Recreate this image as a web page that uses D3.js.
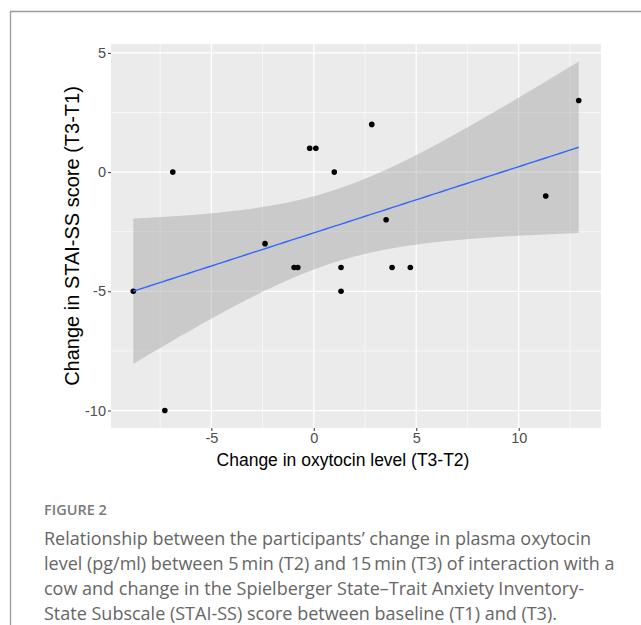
<!DOCTYPE html>
<html>
<head>
<meta charset="utf-8">
<script src="https://cdn.jsdelivr.net/npm/d3@7"></script>
<style>
  html, body { margin: 0; padding: 0; background: #fff; }
  svg { display: block; }
</style>
</head>
<body>
<svg id="chart" width="641" height="625"></svg>
<script>
// ---- Data ----
const oxytocinChange = [-8.81, -7.27, -6.88, -2.38, -0.96, -0.78, -0.2, 0.1, 1.0, 1.33, 1.33, 2.83, 3.53, 3.82, 4.71, 11.32, 12.93];
const staiChange     = [-5,   -10,    0,    -3,    -4,    -4,    1,   1,   0,  -4,   -5,    2,   -2,   -4,   -4,   -1,    3];
const xTicks = [-5, 0, 5, 10];
const yTicks = [-10, -5, 0, 5];
const xMinor = [-7.5, -2.5, 2.5, 7.5, 12.5];
const yMinor = [-7.5, -2.5, 2.5];
const xTitle = "Change in oxytocin level (T3-T2)";
const yTitle = "Change in STAI-SS score (T3-T1)";
const figLabel = "FIGURE 2";
const captionLines = [
  "Relationship between the participants\u2019 change in plasma oxytocin",
  "level (pg/ml) between 5\u2009min (T2) and 15\u2009min (T3) of interaction with a",
  "cow and change in the Spielberger State\u2013Trait Anxiety Inventory-",
  "State Subscale (STAI-SS) score between baseline (T1) and (T3)."
];
const tCrit = 2.131; // t(0.975, df = 15)

// ---- Linear model with 95% confidence band (geom_smooth(method = "lm")) ----
const pts = oxytocinChange.map((x, i) => ({x, y: staiChange[i]}));
const n = pts.length;
const mx = d3.mean(pts, d => d.x), my = d3.mean(pts, d => d.y);
const sxx = d3.sum(pts, d => (d.x - mx) ** 2);
const sxy = d3.sum(pts, d => (d.x - mx) * (d.y - my));
const slope = sxy / sxx, intercept = my - slope * mx;
const rss = d3.sum(pts, d => (d.y - (intercept + slope * d.x)) ** 2);
const sigma = Math.sqrt(rss / (n - 2));
const [xLo, xHi] = d3.extent(pts, d => d.x);
const band = d3.range(80).map(i => {
  const x = xLo + (xHi - xLo) * i / 79;
  const fit = intercept + slope * x;
  const se = sigma * Math.sqrt(1 / n + (x - mx) ** 2 / sxx);
  return {x, fit, lo: fit - tCrit * se, hi: fit + tCrit * se};
});

// ---- Layout ----
const svg = d3.select("#chart");
const panel = {left: 111, top: 44, right: 601, bottom: 428};

// frame of the figure page
svg.append("path")
  .attr("d", "M10.5,625 V11.5 H641")
  .attr("fill", "none").attr("stroke", "#9a9a9a").attr("stroke-width", 1.3);

// scales with ggplot-like 5% expansion
const xr = [xLo, xHi];
const yr = [Math.min(d3.min(pts, d => d.y), d3.min(band, d => d.lo)), Math.max(d3.max(pts, d => d.y), d3.max(band, d => d.hi))];
const ex = (xr[1] - xr[0]) * 0.05, ey = (yr[1] - yr[0]) * 0.05;
const x = d3.scaleLinear().domain([xr[0] - ex, xr[1] + ex]).range([panel.left, panel.right]);
const y = d3.scaleLinear().domain([yr[0] - ey, yr[1] + ey]).range([panel.bottom, panel.top]);

const g = svg.append("g");
g.append("rect")
  .attr("x", panel.left).attr("y", panel.top)
  .attr("width", panel.right - panel.left).attr("height", panel.bottom - panel.top)
  .attr("fill", "#EBEBEB");

// grid
g.selectAll(".xminor").data(xMinor).join("line")
  .attr("x1", d => x(d)).attr("x2", d => x(d)).attr("y1", panel.top).attr("y2", panel.bottom)
  .attr("stroke", "#fff").attr("stroke-width", 0.6);
g.selectAll(".yminor").data(yMinor).join("line")
  .attr("y1", d => y(d)).attr("y2", d => y(d)).attr("x1", panel.left).attr("x2", panel.right)
  .attr("stroke", "#fff").attr("stroke-width", 0.6);
g.selectAll(".xmajor").data(xTicks).join("line")
  .attr("x1", d => x(d)).attr("x2", d => x(d)).attr("y1", panel.top).attr("y2", panel.bottom)
  .attr("stroke", "#fff").attr("stroke-width", 1.2);
g.selectAll(".ymajor").data(yTicks).join("line")
  .attr("y1", d => y(d)).attr("y2", d => y(d)).attr("x1", panel.left).attr("x2", panel.right)
  .attr("stroke", "#fff").attr("stroke-width", 1.2);

// confidence band
g.append("path").datum(band)
  .attr("d", d3.area().x(d => x(d.x)).y0(d => y(d.lo)).y1(d => y(d.hi)))
  .attr("fill", "#999999").attr("fill-opacity", 0.4);

// points
g.selectAll("circle").data(pts).join("circle")
  .attr("cx", d => x(d.x)).attr("cy", d => y(d.y)).attr("r", 2.8)
  .attr("fill", "#000");

// regression line
g.append("path").datum(band)
  .attr("d", d3.line().x(d => x(d.x)).y(d => y(d.fit)))
  .attr("fill", "none").attr("stroke", "#3366FF").attr("stroke-width", 1.4);

// axes
const xAxis = d3.axisBottom(x).tickValues(xTicks).tickSize(3).tickPadding(2).tickFormat(d3.format("d"));
const yAxis = d3.axisLeft(y).tickValues(yTicks).tickSize(3).tickPadding(2).tickFormat(d3.format("d"));
const gx = svg.append("g").attr("transform", `translate(0,${panel.bottom})`).call(xAxis);
const gy = svg.append("g").attr("transform", `translate(${panel.left},0)`).call(yAxis);
[gx, gy].forEach(a => {
  a.select(".domain").remove();
  a.selectAll(".tick line").attr("stroke", "#333").attr("stroke-width", 1);
  a.selectAll(".tick text")
    .attr("fill", "#4D4D4D")
    .style("font-family", "'Liberation Sans', Arial, sans-serif")
    .style("font-size", "14.5px");
});
gx.selectAll(".tick text").text(d => d < 0 ? "-" + Math.abs(d) : d);
gy.selectAll(".tick text").text(d => d < 0 ? "-" + Math.abs(d) : d);

// axis titles
svg.append("text")
  .attr("x", 343).attr("y", 466)
  .attr("text-anchor", "middle")
  .style("font-family", "'Liberation Sans', Arial, sans-serif").style("font-size", "17.5px")
  .attr("fill", "#000").text(xTitle);
svg.append("text")
  .attr("transform", `translate(79,${(panel.top + panel.bottom) / 2}) rotate(-90)`)
  .attr("text-anchor", "middle")
  .style("font-family", "'Liberation Sans', Arial, sans-serif").style("font-size", "20px")
  .attr("fill", "#000").text(yTitle);

// caption
svg.append("text")
  .attr("x", 44).attr("y", 515)
  .style("font-family", "'Open Sans', sans-serif").style("font-size", "14.5px").style("font-weight", 600)
  .attr("fill", "#7a7a7a").text(figLabel);
svg.append("g").selectAll("text").data(captionLines).join("text")
  .attr("x", 44).attr("y", (d, i) => 545 + i * 25)
  .style("font-family", "'Open Sans', sans-serif").style("font-size", "18px").style("font-weight", 400)
  .attr("fill", "#666666").text(d => d);
</script>
</body>
</html>
